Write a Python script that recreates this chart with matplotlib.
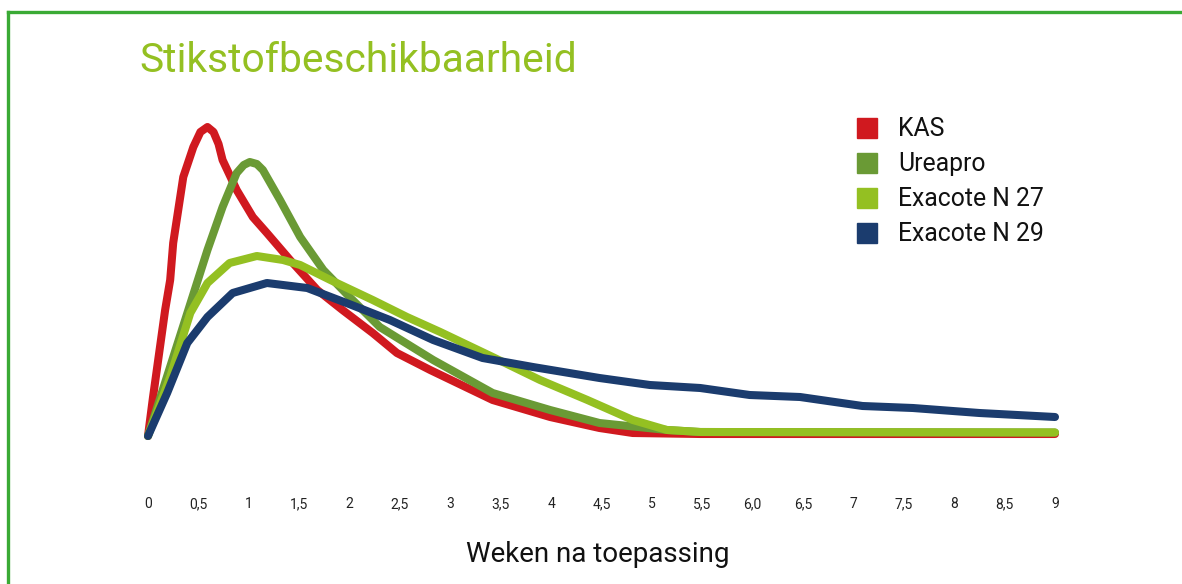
import matplotlib.pyplot as plt
from matplotlib.lines import Line2D
from matplotlib.patches import Rectangle

plt.rcParams['font.family'] = ['Roboto', 'DejaVu Sans']

# ---- data (x = weeks, y = relative N availability) ----
kas_x = [0, 0.05, 0.17, 0.22, 0.25, 0.35, 0.45, 0.52, 0.59, 0.65, 0.70, 0.74, 0.88,
         1.04, 1.18, 1.41, 1.68, 1.93, 2.23, 2.47, 2.80, 3.42, 3.99, 4.48, 4.81, 5.48, 9.0]
kas_y = [0, 3.9, 12.6, 15.6, 19.3, 25.9, 28.9, 30.4, 30.9, 30.4, 29.2, 27.6, 24.6,
         21.9, 20.3, 17.6, 14.6, 12.6, 10.3, 8.3, 6.6, 3.6, 1.9, 0.8, 0.3, 0.2, 0.2]

urea_x = [0, 0.40, 0.59, 0.74, 0.88, 0.95, 1.01, 1.08, 1.14, 1.31, 1.51, 1.74, 2.00,
          2.30, 2.83, 3.42, 3.99, 4.48, 5.15, 5.48, 9.0]
urea_y = [0, 12.6, 18.6, 22.9, 26.3, 27.1, 27.4, 27.2, 26.6, 23.6, 19.9, 16.6, 13.9,
          10.9, 7.6, 4.3, 2.6, 1.3, 0.6, 0.4, 0.35]

n27_x = [0, 0.22, 0.42, 0.59, 0.81, 1.08, 1.34, 1.51, 1.81, 2.23, 2.57, 2.90,
         3.42, 3.89, 4.36, 4.81, 5.15, 5.48, 9.0]
n27_y = [0, 5.9, 12.3, 15.3, 17.3, 18.0, 17.6, 17.1, 15.6, 13.6, 11.9, 10.4,
         7.9, 5.6, 3.6, 1.6, 0.6, 0.4, 0.35]

n29_x = [0, 0.19, 0.39, 0.59, 0.84, 1.18, 1.58, 1.97, 2.40, 2.83, 3.32, 3.82,
         4.48, 4.98, 5.48, 5.97, 6.47, 7.09, 7.59, 8.25, 9.0]
n29_y = [0, 4.3, 9.3, 11.9, 14.3, 15.3, 14.8, 13.3, 11.6, 9.6, 7.8, 6.9,
         5.8, 5.1, 4.8, 4.1, 3.9, 3.0, 2.8, 2.3, 1.9]

names = ['KAS', 'Ureapro', 'Exacote N 27', 'Exacote N 29']
colors = ['#D0191F', '#6A9A35', '#94C022', '#1B3C6E']

tick_pos = [0, 0.5, 1, 1.5, 2, 2.5, 3, 3.5, 4, 4.5, 5, 5.5, 6, 6.5, 7, 7.5, 8, 8.5, 9]
tick_lbl = ['0', '0,5', '1', '1,5', '2', '2,5', '3', '3,5', '4', '4,5', '5', '5,5',
            '6,0', '6,5', '7', '7,5', '8', '8,5', '9']

W, H = 1182, 584
fig = plt.figure(figsize=(W / 100, H / 100), dpi=100)
ax = fig.add_axes([148 / W, (H - 436) / H, 907 / W, 310 / H])

series = [(kas_x, kas_y), (urea_x, urea_y), (n27_x, n27_y), (n29_x, n29_y)]
for (xs, ys), c in zip(series, colors):
    ax.plot(xs, ys, color=c, lw=5.8, solid_capstyle='round',
            solid_joinstyle='round', clip_on=False)

ax.set_xlim(0, 9)
ax.set_ylim(0, 31)
ax.set_xticks(tick_pos)
ax.set_xticklabels(tick_lbl, fontsize=10, color='#222222')
ax.tick_params(axis='x', length=0, pad=44)
ax.set_yticks([])
for s in ax.spines.values():
    s.set_visible(False)

# frame
fig.add_artist(Line2D([8 / W, 8 / W], [0, 1 - 12 / H], color='#3AAA35', lw=2.4))
fig.add_artist(Line2D([8 / W, 1], [1 - 12 / H, 1 - 12 / H], color='#3AAA35', lw=2.4))

fig.text(139 / W, 1 - 72 / H, 'Stikstofbeschikbaarheid', fontsize=29.3,
         color='#94C022', va='baseline', ha='left')
fig.text(598 / W, 1 - 555 / H, 'Weken na toepassing', fontsize=20,
         color='#111111', ha='center', va='center')

# legend
for i, (n, c) in enumerate(zip(names, colors)):
    ytop = 118 + 35 * i
    fig.add_artist(Rectangle((857 / W, 1 - (ytop + 20) / H), 20 / W, 20 / H,
                             color=c, transform=fig.transFigure))
    fig.text(898 / W, 1 - (ytop + 11) / H, n, fontsize=17.8, color='#111111',
             va='center', ha='left')

fig.savefig('out.png', dpi=100)
